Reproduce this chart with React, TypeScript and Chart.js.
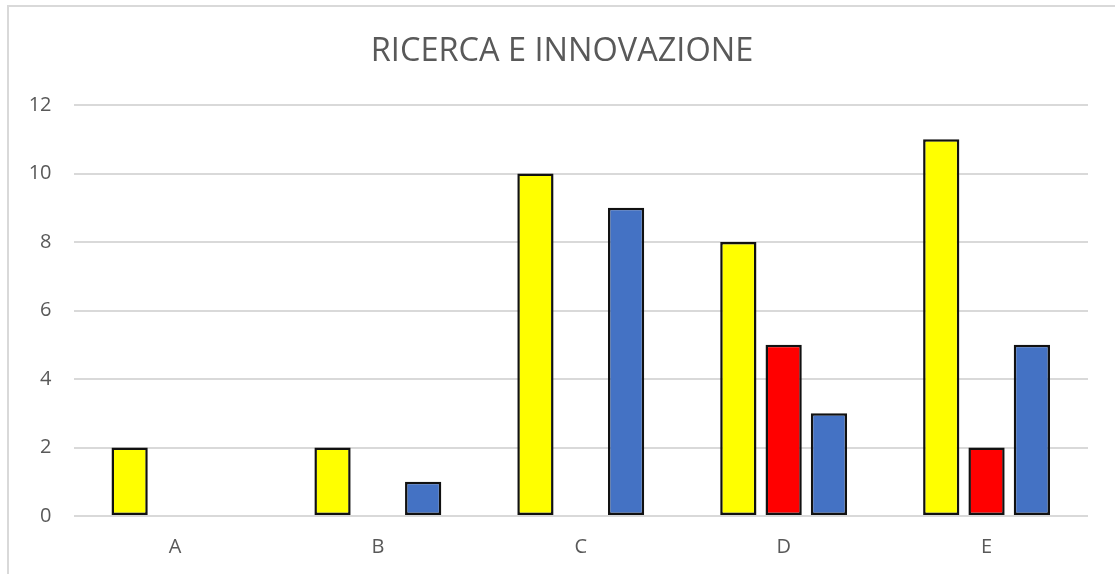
import React, { useEffect, useRef } from "react";
import { Chart, registerables } from "chart.js";

Chart.register(...registerables);

const categories = ["A", "B", "C", "D", "E"];
const yellowValues = [2, 2, 10, 8, 11];
const redValues = [null, null, null, 5, 2];
const blueValues = [null, 1, 9, 3, 5];
const yTicks = [0, 2, 4, 6, 8, 10, 12];
const titleText = "RICERCA E INNOVAZIONE";

export default function App() {
  const ref = useRef<HTMLCanvasElement | null>(null);

  useEffect(() => {
    if (!ref.current) return;
    const font = "'Open Sans', 'DejaVu Sans', sans-serif";
    const shiftTitle = {
      id: "shiftTitle",
      afterLayout(chart: any) {
        const t = chart.titleBlock;
        if (t) t.left = 36;
      },
    };
    const chart = new Chart(ref.current, {
      type: "bar",
      data: {
        labels: categories,
        datasets: [
          { label: "Serie 1", data: yellowValues, backgroundColor: "#FFFF00", borderColor: "#111111", borderWidth: 2.5, borderSkipped: false as any },
          { label: "Serie 2", data: redValues as any, backgroundColor: "#FF0000", borderColor: "#111111", borderWidth: 2.5, borderSkipped: false as any },
          { label: "Serie 3", data: blueValues as any, backgroundColor: "#4472C4", borderColor: "#111111", borderWidth: 2.5, borderSkipped: false as any },
        ],
      },
      plugins: [shiftTitle],
      options: {
        responsive: false,
        animation: false,
        devicePixelRatio: 1,
        layout: { padding: { left: 0, right: 27, top: 0, bottom: 0 } },
        datasets: { bar: { categoryPercentage: 0.67, barPercentage: 0.8 } },
        plugins: {
          legend: { display: false },
          tooltip: { enabled: false },
          title: {
            display: true,
            text: titleText,
            color: "#595959",
            font: { family: font, size: 32.5, weight: "normal", lineHeight: 1.2 },
            padding: { top: 32, bottom: 34 },
          },
        },
        scales: {
          x: {
            grid: { display: false, drawTicks: false },
            border: { display: false },
            ticks: { color: "#595959", font: { family: font, size: 20 }, padding: 19 },
            afterFit: (s: any) => { s.height = 58; },
          },
          y: {
            min: 0,
            max: 12,
            afterBuildTicks: (s: any) => { s.ticks = yTicks.map((v) => ({ value: v })); },
            grid: { color: "#d9d9d9", lineWidth: 2, drawTicks: false },
            border: { display: false },
            ticks: { color: "#595959", font: { family: font, size: 20 }, padding: 22 },
            afterFit: (s: any) => { s.width = 73.5; },
          },
        },
      },
    });
    return () => chart.destroy();
  }, []);

  return (
    <div style={{ position: "absolute", left: 0, top: 0, width: 1115, height: 574, overflow: "hidden", background: "#ffffff" }}>
      <div style={{ position: "absolute", left: 7, top: 5, width: 1130, height: 600, border: "2px solid #d9d9d9" }} />
      <canvas ref={ref} width={1115} height={574} style={{ position: "absolute", left: 0, top: 0 }} />
    </div>
  );
}
